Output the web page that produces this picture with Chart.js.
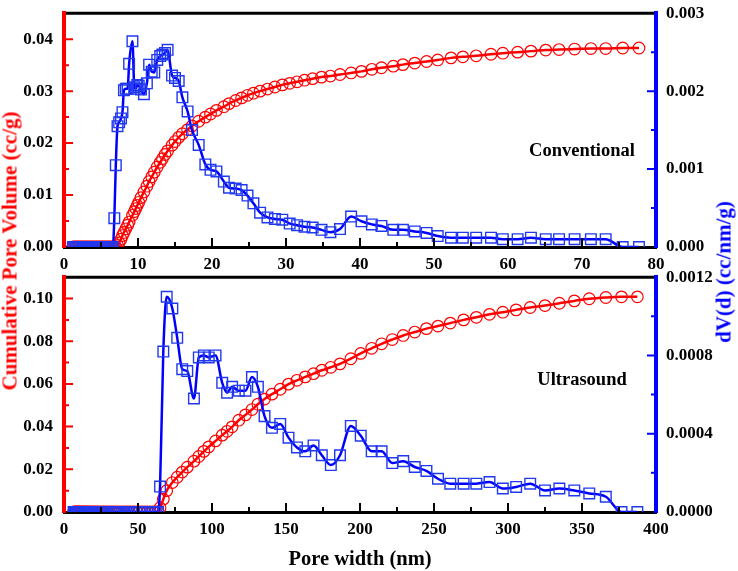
<!DOCTYPE html>
<html>
<head>
<meta charset="utf-8">
<title>Pore size distribution</title>
<script src="https://cdn.jsdelivr.net/npm/chart.js@4.4.1/dist/chart.umd.min.js"></script>
<style>
    body { margin: 0; background: #fff; }
    #wrap { position: relative; width: 738px; height: 571px; overflow: hidden; background: #fff;
            font-family: "Liberation Serif", "Times New Roman", serif; font-weight: bold; }
    canvas { position: absolute; left: 0; }
    #chartTop { top: 0; }
    #chartBottom { top: 264px; }
    .vtitle { position: absolute; white-space: nowrap; font-size: 21px; transform: translate(-50%, -50%) rotate(-90deg); }
    .label { position: absolute; white-space: nowrap; font-size: 18.5px; color: #000; transform: translate(-50%, -50%); }
</style>
</head>
<body>
<div id="wrap">
    <canvas id="chartTop" width="738" height="276"></canvas>
    <canvas id="chartBottom" width="738" height="307"></canvas>
    <div class="vtitle" style="left:10px; top:251px; color:#ff0000;">Cumulative Pore Volume (cc/g)</div>
    <div class="vtitle" style="left:724px; top:272px; color:#0000ff;">dV(d) (cc/nm/g)</div>
    <div class="label" style="left:582px; top:150px;">Conventional</div>
    <div class="label" style="left:582px; top:379px;">Ultrasound</div>
</div>
<script>
// ---- data ----
// top panel (Conventional)
const topWidth = [
    1.2, 1.4, 1.6, 1.8, 2.0, 2.2, 2.4, 2.6, 2.8, 3.0, 3.2, 3.4, 3.6, 3.8, 4.0, 4.2, 4.4, 4.6, 4.8, 5.0,
    5.2, 5.4, 5.6, 5.8, 6.0, 6.2, 6.4, 6.6,
    6.8, 7.0, 7.23, 7.45, 7.7, 7.9, 8.1, 8.35, 8.6, 8.8,
    9.25, 9.5, 9.7, 9.9, 10.1, 10.4, 10.8, 11.2, 11.5, 11.85,
    12.2, 12.6, 13.0, 13.3, 13.65, 14.0, 14.6, 15.0, 15.5, 16.0,
    16.7, 17.3, 18.2, 19.1, 19.8, 20.6, 21.6, 22.3, 23.2, 24.0,
    24.8, 25.6, 26.5, 27.5, 28.5, 29.5, 30.5, 31.5, 32.5, 33.6,
    34.8, 36.0, 37.3, 38.8, 40.2, 41.6, 42.9, 44.5, 45.8, 47.4,
    49.0, 50.5, 52.3, 53.9, 55.7, 57.7, 59.3, 61.3, 63.1, 65.1,
    66.9, 69.0, 71.2, 73.2, 75.5, 77.7
];
const topCumulative = [
    0, 0, 0, 0, 0, 0, 0, 0, 0, 0, 0, 0, 0, 0, 0, 0, 0, 0, 0, 0,
    0, 0, 0, 0, 0, 0, 0, 0,
    0, 0, 0.0003, 0.0008, 0.0015, 0.0022, 0.0028, 0.0035, 0.0042, 0.0048,
    0.0061, 0.0068, 0.0074, 0.0080, 0.0086, 0.0095, 0.0106, 0.0117, 0.0126, 0.0135,
    0.0144, 0.0154, 0.0163, 0.0170, 0.0178, 0.0185, 0.0196, 0.0203, 0.0211, 0.0218,
    0.0226, 0.0233, 0.0242, 0.0250, 0.0256, 0.0263, 0.0270, 0.0276, 0.0282, 0.0287,
    0.0292, 0.0296, 0.0300, 0.0304, 0.0308, 0.0312, 0.0315, 0.0318, 0.0321, 0.0324,
    0.0327, 0.0329, 0.0332, 0.0335, 0.0338, 0.0342, 0.0345, 0.0348, 0.0351, 0.0354,
    0.0357, 0.0360, 0.0364, 0.0366, 0.0368, 0.0371, 0.0373, 0.0375, 0.0377, 0.0379,
    0.0380, 0.0381, 0.0382, 0.0382, 0.0383, 0.0383
];
const topDv = [
    0, 0, 0, 0, 0, 0, 0, 0, 0, 0, 0, 0, 0, 0, 0, 0, 0, 0, 0, 0,
    0, 0, 0, 0, 0, 0, 0, 0,
    0.00037, 0.00105, 0.00155, 0.00160, 0.00165, 0.00173, 0.00201, 0.00203, 0.00203, 0.00235,
    0.00264, 0.00205, 0.00203, 0.00208, 0.00207, 0.00202, 0.00196, 0.00210, 0.00234, 0.00225,
    0.00224, 0.00240, 0.00245, 0.00247, 0.00249, 0.00253, 0.00220, 0.00217, 0.00213, 0.00192,
    0.00174, 0.00150, 0.00131, 0.00106, 0.00099, 0.00097, 0.00084, 0.00076, 0.00075, 0.00073,
    0.00066, 0.00056, 0.00044, 0.00038, 0.00036, 0.00035, 0.00030, 0.00028, 0.00026, 0.00025,
    0.00022, 0.00019, 0.00023, 0.00039, 0.00033, 0.00029, 0.00027, 0.00022, 0.00022, 0.00020,
    0.00018, 0.00014, 0.00012, 0.00012, 0.00012, 0.00012, 0.00010, 0.00010, 0.00012, 0.00010,
    0.00010, 0.00010, 0.00010, 0.00010, 0, 0
];

// bottom panel (Ultrasound)
const bottomWidth = [
    6.5, 7.2, 7.9, 8.6, 9.3, 10.0, 10.7, 11.5, 12.3, 13.1,
    13.9, 14.8, 15.7, 16.6, 17.6, 18.6, 19.6, 20.7, 21.8, 22.9,
    24.1, 25.3, 26.5, 27.8, 29.1, 30.4, 31.8, 33.2, 34.6, 36.1,
    37.6, 39.1, 40.7, 42.3, 43.9, 45.6, 47.3, 49.0, 50.8, 52.6,
    54.4, 56.3, 58.2, 60.1, 62.0, 63.5,
    64.9, 67.1, 69.4, 73.2, 76.5, 79.9, 83.3, 87.8, 91.1, 94.5,
    97.8, 102.4, 106.9, 110.2, 113.6, 118.1, 122.6, 127.0, 131.0, 135.5,
    140.5, 146.1, 151.7, 157.4, 163.0, 168.6, 174.2, 180.3, 186.5, 193.8,
    200.5, 207.9, 214.6, 221.8, 229.2, 237.0, 244.9, 252.7, 261.0, 270.0,
    278.6, 287.5, 296.5, 305.5, 315.0, 325.0, 334.7, 344.8, 354.9, 366.1,
    376.7, 387.4
];
const bottomCumulative = [
    0, 0, 0, 0, 0, 0, 0, 0, 0, 0, 0, 0, 0, 0, 0, 0, 0, 0, 0, 0,
    0, 0, 0, 0, 0, 0, 0, 0, 0, 0, 0, 0, 0, 0, 0, 0, 0, 0, 0, 0,
    0, 0, 0, 0, 0, 0,
    0.002, 0.006, 0.0100, 0.0138, 0.0163, 0.0187, 0.0210, 0.0238, 0.0260, 0.0284,
    0.0305, 0.0333, 0.0360, 0.0378, 0.0399, 0.0430, 0.0455, 0.0480, 0.0505, 0.0529,
    0.0552, 0.0575, 0.0599, 0.0617, 0.0633, 0.0648, 0.0664, 0.0678, 0.0694, 0.0718,
    0.0743, 0.0767, 0.0788, 0.0808, 0.0827, 0.0843, 0.0859, 0.0871, 0.0885, 0.0900,
    0.0912, 0.0926, 0.0936, 0.0947, 0.0958, 0.0967, 0.0978, 0.0989, 0.0999, 0.1005,
    0.1008, 0.1008
];
const bottomDv = [
    0, 0, 0, 0, 0, 0, 0, 0, 0, 0, 0, 0, 0, 0, 0, 0, 0, 0, 0, 0,
    0, 0, 0, 0, 0, 0, 0, 0, 0, 0, 0, 0, 0, 0, 0, 0, 0, 0, 0, 0,
    0, 0, 0, 0, 0, 0,
    0.00013, 0.00082, 0.00110, 0.00104, 0.00089, 0.00073, 0.00072, 0.00058, 0.00079, 0.00080,
    0.00079, 0.00080, 0.00066, 0.00061, 0.00064, 0.00062, 0.00062, 0.00069, 0.00064, 0.00049,
    0.00043, 0.00045, 0.00038, 0.00033, 0.00031, 0.00034, 0.00029, 0.00024, 0.00029, 0.00044,
    0.00039, 0.00031, 0.00031, 0.00025, 0.00026, 0.00023, 0.00021, 0.00017, 0.000145, 0.000145,
    0.000145, 0.000153, 0.00012, 0.000128, 0.000145, 0.00011, 0.00012, 0.00011, 0.000095, 0.000078,
    0, 0
];

// tick labels
const topXTicks = [0, 10, 20, 30, 40, 50, 60, 70, 80];
const topLeftTicks = [0, 0.01, 0.02, 0.03, 0.04];
const topRightTicks = [0, 0.001, 0.002, 0.003];
const bottomXTicks = [0, 50, 100, 150, 200, 250, 300, 350, 400];
const bottomLeftTicks = [0, 0.02, 0.04, 0.06, 0.08, 0.10];
const bottomRightTicks = [0, 0.0004, 0.0008, 0.0012];

const serif = '"Liberation Serif", "Times New Roman", serif';
const tickFont = { family: serif, size: 17, weight: 'bold' };

// inward tick marks (major + minor) and the black top frame line
const frameTicks = {
    id: 'frameTicks',
    afterDatasetsDraw(chart, args, opts) {
        const ctx = chart.ctx;
        const a = chart.chartArea;
        ctx.save();
        ctx.lineWidth = 2;
        opts.axes.forEach(ax => {
            const s = chart.scales[ax.id];
            const step = ax.major[1] - ax.major[0];
            const marks = ax.major.map(v => [v, 9]);
            for (let v = ax.major[0] + step / 2; v < s.max - step * 0.01; v += step) marks.push([v, 5]);
            ctx.strokeStyle = ax.color;
            ctx.beginPath();
            marks.forEach(([v, len]) => {
                if (v <= s.min + 1e-12 || v >= s.max - 1e-12) return;
                const p = s.getPixelForValue(v);
                if (ax.side === 'bottom') { ctx.moveTo(p, a.bottom); ctx.lineTo(p, a.bottom - len); }
                else if (ax.side === 'left') { ctx.moveTo(a.left, p); ctx.lineTo(a.left + len, p); }
                else { ctx.moveTo(a.right, p); ctx.lineTo(a.right - len, p); }
            });
            ctx.stroke();
        });
        ctx.strokeStyle = '#000';
        ctx.lineWidth = 3;
        ctx.beginPath();
        ctx.moveTo(a.left + 2, a.top);
        ctx.lineTo(a.right - 2, a.top);
        ctx.stroke();
        ctx.restore();
    }
};

function buildPanel(canvasId, p) {
    const ctx = document.getElementById(canvasId).getContext('2d');
    return new Chart(ctx, {
        type: 'line',
        data: {
            datasets: [
                {   // dV(d): squares, right axis, drawn on top
                    data: p.width.map((w, i) => ({ x: w, y: p.dv[i] })),
                    yAxisID: 'y1',
                    order: 0,
                    borderColor: '#0000ff',
                    borderWidth: 2.5,
                    pointStyle: 'rect',
                    pointRadius: 7.5,
                    pointBorderWidth: 1.4,
                    pointBorderColor: '#2038f0',
                    pointBackgroundColor: 'rgba(0,0,0,0)',
                    cubicInterpolationMode: 'monotone',
                    clip: { left: 12, right: 12, top: 12, bottom: 0 }
                },
                {   // cumulative volume: circles, left axis
                    data: p.width.map((w, i) => ({ x: w, y: p.cum[i] })),
                    yAxisID: 'y',
                    order: 1,
                    borderColor: '#ff0000',
                    borderWidth: 2.5,
                    pointStyle: 'circle',
                    pointRadius: 5.8,
                    pointBorderWidth: 1.2,
                    pointBorderColor: '#ff0000',
                    pointBackgroundColor: 'rgba(0,0,0,0)',
                    cubicInterpolationMode: 'monotone',
                    clip: { left: 12, right: 12, top: 12, bottom: 0 }
                }
            ]
        },
        options: {
            responsive: false,
            animation: false,
            events: [],
            layout: { padding: { top: 11, left: 0, right: 0, bottom: 0 } },
            plugins: {
                legend: { display: false },
                tooltip: { enabled: false },
                frameTicks: {
                    axes: [
                        { id: 'x', side: 'bottom', major: p.xTicks, color: '#000' },
                        { id: 'y', side: 'left', major: p.leftTicks, color: '#ff0000' },
                        { id: 'y1', side: 'right', major: p.rightTicks, color: '#0000ff' }
                    ]
                }
            },
            scales: {
                x: {
                    type: 'linear', position: 'bottom', min: 0, max: p.xMax,
                    grid: { display: false },
                    border: { color: '#000', width: 3 },
                    ticks: { font: tickFont, color: '#000', padding: -1, maxRotation: 0 },
                    afterBuildTicks: s => { s.ticks = p.xTicks.map(v => ({ value: v })); },
                    afterFit: s => { s.height = p.xHeight; },
                    title: p.xTitle ? {
                        display: true, text: p.xTitle, color: '#000',
                        font: { family: serif, size: 20.5, weight: 'bold' },
                        padding: { top: 0, bottom: -1 }
                    } : { display: false }
                },
                y: {
                    type: 'linear', position: 'left', min: 0, max: p.leftMax,
                    grid: { display: false },
                    border: { color: '#ff0000', width: 4 },
                    ticks: { font: tickFont, color: '#000', padding: 3, callback: v => v.toFixed(p.leftDec) },
                    afterBuildTicks: s => { s.ticks = p.leftTicks.map(v => ({ value: v })); },
                    afterFit: s => { s.width = 64; }
                },
                y1: {
                    type: 'linear', position: 'right', min: 0, max: p.rightMax,
                    grid: { display: false },
                    border: { color: '#0000ff', width: 4 },
                    ticks: { font: tickFont, color: '#000', padding: 2, callback: v => v.toFixed(p.rightDec) },
                    afterBuildTicks: s => { s.ticks = p.rightTicks.map(v => ({ value: v })); },
                    afterFit: s => { s.width = 82; }
                }
            }
        },
        plugins: [frameTicks]
    });
}

buildPanel('chartTop', {
    width: topWidth, cum: topCumulative, dv: topDv,
    xMax: 80, leftMax: 0.045, rightMax: 0.003,
    xTicks: topXTicks, leftTicks: topLeftTicks, rightTicks: topRightTicks,
    leftDec: 2, rightDec: 3, xHeight: 29, xTitle: null
});

buildPanel('chartBottom', {
    width: bottomWidth, cum: bottomCumulative, dv: bottomDv,
    xMax: 400, leftMax: 0.11, rightMax: 0.0012,
    xTicks: bottomXTicks, leftTicks: bottomLeftTicks, rightTicks: bottomRightTicks,
    leftDec: 2, rightDec: 4, xHeight: 59, xTitle: 'Pore width (nm)'
});
</script>
</body>
</html>
